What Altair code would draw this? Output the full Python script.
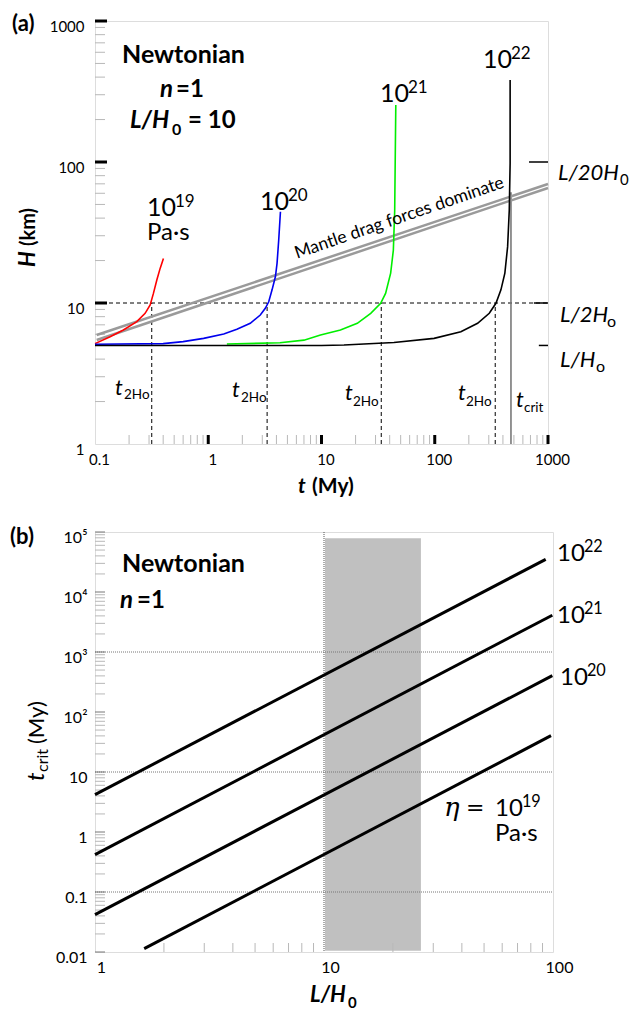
import altair as alt
import pandas as pd

FONT = "Lato"

# ---------------- Panel (a): H(t) curves ----------------
red_t = [0.100, 0.136, 0.178, 0.234, 0.277, 0.307, 0.328, 0.352, 0.376, 0.402]
red_H = [5.15, 5.77, 6.44, 7.37, 8.45, 9.68, 11.7, 14.6, 17.6, 20.7]
blue_t = [0.100, 0.40, 0.60, 0.91, 1.37, 1.79, 2.35, 2.88, 3.19, 3.42, 3.66, 3.92, 4.05, 4.19, 4.34]
blue_H = [5.10, 5.15, 5.32, 5.61, 6.03, 6.51, 7.18, 8.22, 9.17, 10.2, 12.4, 15.4, 19.1, 28.0, 44.4]
green_t = [1.46, 4.3, 7.0, 9.8, 14.7, 20.7, 27.2, 33.3, 36.8, 40.8, 43.1, 44.3, 45.3]
green_H = [5.12, 5.22, 5.45, 5.93, 6.44, 7.18, 8.45, 9.95, 11.7, 16.3, 23.7, 45.5, 254]
black_t = [0.100, 10.0, 15.8, 43.6, 98.6, 170, 239, 303, 347, 384, 416, 440, 455, 463, 463]
black_H = [5.00, 5.00, 5.04, 5.24, 5.61, 6.26, 7.18, 8.45, 9.95, 12.4, 16.3, 25.1, 45.5, 98, 382]

band_t = [0.1035, 1000]
band_upper_H = [5.93, 69.8]
band_lower_H = [5.47, 65.4]

t2Ho = [0.317, 3.31, 33.7, 342]
H_2H0 = 10
t_crit_a = 471
t_crit_top = 61

right_tick_H = [100, 10, 5]
right_tick_from_t = [680, 750, 830]

a_x_ticks = [0.1, 1, 10, 100, 1000]
a_x_labels = ["0.1", "1", "10", "100", "1000"]
a_y_ticks = [1, 10, 100, 1000]
a_y_labels = ["1", "10", "100", "1000"]

# ---------------- Panel (b): t_crit vs L/H0 ----------------
LH_19 = [1.64, 98.0]
tc_19 = [0.0114, 40.3]
LH_20 = [1.0, 99.3]
tc_20 = [0.042, 403]
LH_21 = [1.0, 99.3]
tc_21 = [0.42, 4100]
LH_22 = [1.0, 92.9]
tc_22 = [4.2, 35000]
shade_LH = [10.1, 26.5]
shade_tc = [0.0105, 79000]
grid_tc = [0.1, 10, 1000]
vline_LH = [10]

b_x_ticks = [1, 10, 100]
b_x_labels = ["1", "10", "100"]
b_y_ticks = [0.01, 0.1, 1, 10, 100, 1000, 1e4, 1e5]
b_y_labels = ["0.01", "0.1", "1", "10", "10²", "10³", "10⁴", "10⁵"]

a_x_minor = [m * 10 ** k for k in range(-1, 3) for m in range(2, 10)]
a_y_minor = [m * 10 ** k for k in range(0, 3) for m in range(2, 10)]
b_x_minor = [m * 10 ** k for k in range(0, 2) for m in range(2, 10)]
b_y_minor = [m * 10 ** k for k in range(-2, 5) for m in range(2, 10)]

WA, HA = 453, 423
WB, HB = 458, 420


def js_list(lst):
    return "[" + ",".join("'" + s + "'" for s in lst) + "]"


def T(x, y, s, size, weight="normal", style="normal", align="left",
      baseline="alphabetic", angle=0, font=FONT, color="black"):
    return alt.Chart(pd.DataFrame({"s": [s]})).mark_text(
        text=s, fontSize=size, fontWeight=weight, fontStyle=style, align=align,
        baseline=baseline, angle=angle, font=font, color=color
    ).encode(x=alt.value(x), y=alt.value(y))


def power(x, y, base, exp, size):
    w = len(base) * 0.56 * size
    return [T(x, y, base, size), T(x + w, y - 0.36 * size, exp, round(size * 0.68, 1))]


# ---------- panel (a) scales / axes ----------
xsa = alt.Scale(type="log", domain=[0.1, 1000])
ysa = alt.Scale(type="log", domain=[1, 1000])
axa_x = alt.Axis(values=a_x_ticks, labelExpr=js_list(a_x_labels) + "[round(log(datum.value)/LN10)+1]",
                 title=None, ticks=False, domain=False, grid=False, labelFontSize=15,
                 labelFont=FONT, labelColor="black", labelPadding=8, labelOffset=4, labelFlush=False)
axa_y = alt.Axis(values=a_y_ticks, labelExpr=js_list(a_y_labels) + "[round(log(datum.value)/LN10)]",
                 title=None, ticks=False, domain=False, grid=False, labelFontSize=15,
                 labelFont=FONT, labelColor="black", labelPadding=11, labelOffset=5, labelFlush=False)


def XA(f):
    return alt.X(f, type="quantitative", scale=xsa, axis=axa_x)


def YA(f):
    return alt.Y(f, type="quantitative", scale=ysa, axis=axa_y)


rows = []
for name, ts, hs in [("1e19", red_t, red_H), ("1e20", blue_t, blue_H),
                     ("1e21", green_t, green_H), ("1e22", black_t, black_H)]:
    for i, (t, h) in enumerate(zip(ts, hs)):
        rows.append({"series": name, "t": t, "H": h, "i": i})
curves_df = pd.DataFrame(rows)

band_rows = []
for name, hs in [("upper", band_upper_H), ("lower", band_lower_H)]:
    for t, h in zip(band_t, hs):
        band_rows.append({"b": name, "t": t, "H": h})
band_df = pd.DataFrame(band_rows)

a_layers = []
# minor / major inward ticks
a_layers.append(alt.Chart(pd.DataFrame({"v": a_y_minor})).mark_rule(color="#b8b8b8", strokeWidth=1)
                .encode(y=YA("v"), x=alt.value(0), x2=alt.value(10)))
a_layers.append(alt.Chart(pd.DataFrame({"v": a_y_ticks[1:]})).mark_rule(color="black", strokeWidth=3)
                .encode(y=YA("v"), x=alt.value(0), x2=alt.value(12)))
a_layers.append(alt.Chart(pd.DataFrame({"v": a_x_minor})).mark_rule(color="#b8b8b8", strokeWidth=1)
                .encode(x=XA("v"), y=alt.value(HA), y2=alt.value(HA - 9)))
a_layers.append(alt.Chart(pd.DataFrame({"v": a_x_ticks[1:]})).mark_rule(color="black", strokeWidth=3)
                .encode(x=XA("v"), y=alt.value(HA), y2=alt.value(HA - 9)))
a_layers.append(alt.Chart(pd.DataFrame({"H": right_tick_H, "t0": right_tick_from_t, "t1": [1000] * 3}))
                .mark_rule(color="black", strokeWidth=1.5)
                .encode(y=YA("H"), x=XA("t0"), x2="t1:Q"))
# dashed guides
a_layers.append(alt.Chart(pd.DataFrame({"H": [H_2H0], "t0": [0.1], "t1": [1000]}))
                .mark_rule(color="black", strokeWidth=1, strokeDash=[4, 3])
                .encode(y=YA("H"), x=XA("t0"), x2="t1:Q"))
a_layers.append(alt.Chart(pd.DataFrame({"t": t2Ho, "y0": [1] * 4, "y1": [H_2H0] * 4}))
                .mark_rule(color="black", strokeWidth=1, strokeDash=[4, 3])
                .encode(x=XA("t"), y=YA("y0"), y2="y1:Q"))
a_layers.append(alt.Chart(pd.DataFrame({"t": [t_crit_a], "y0": [1], "y1": [t_crit_top]}))
                .mark_rule(color="#707070", strokeWidth=1.5)
                .encode(x=XA("t"), y=YA("y0"), y2="y1:Q"))
# mantle drag band
a_layers.append(alt.Chart(band_df).mark_line(color="#9a9a9a", strokeWidth=2.5)
                .encode(x=XA("t"), y=YA("H"), detail="b:N"))
# curves
a_layers.append(alt.Chart(curves_df).mark_line(strokeWidth=1.6, interpolate="linear")
                .encode(x=XA("t"), y=YA("H"),
                        color=alt.Color("series:N", legend=None,
                                        scale=alt.Scale(domain=["1e19", "1e20", "1e21", "1e22"],
                                                        range=["#ff0000", "#0000ee", "#00ee00", "#000000"])),
                        order="i:Q"))

# texts
a_texts = [
    T(-83, 10, "(a)", 22, weight="bold"),
    T(27, 42, "Newtonian", 25, weight="bold"),
    T(65, 76, "n", 24, weight="bold", style="italic"),
    T(81, 76, "=1", 24, weight="bold"),
    T(35, 107, "L/H", 24, weight="bold", style="italic"),
    T(77, 114, "0", 16, weight="bold"),
    T(93, 107, "= 10", 24, weight="bold"),
    T(52, 219, "Pa·s", 24),
    T(306, 202, "Mantle drag forces dominate", 17.5, align="center", angle=341),
    T(203, 472, "t", 21, weight="bold", style="italic"),
    T(217, 472, "(My)", 21, weight="bold"),
    T(-60, 246, "H", 22, weight="bold", style="italic", angle=270),
    T(-60, 225, "(km)", 20, weight="bold", angle=270),
    T(463, 159, "L/20H", 22, style="italic"),
    T(525, 164, "0", 15),
    T(465, 301, "L/2H", 22, style="italic"),
    T(512, 306, "o", 16),
    T(465, 346, "L/H", 22, style="italic"),
    T(501, 351, "o", 16),
]
a_texts += power(52, 195, "10", "19", 25)
a_texts += power(165, 189, "10", "20", 25)
a_texts += power(285, 81, "10", "21", 25)
a_texts += power(388, 47, "10", "22", 25)
for (tx, ty, sx, sy) in [(20, 374, 29, 378), (137, 376, 146, 381), (250, 379, 258, 385), (363, 379, 371, 385)]:
    a_texts.append(T(tx, ty, "t", 22, style="italic"))
    a_texts.append(T(sx, sy, "2Ho", 13.5))
a_texts.append(T(421, 386, "t", 22, style="italic"))
a_texts.append(T(429, 391, "crit", 13.5))

panel_a = alt.layer(*a_layers, *a_texts).properties(width=WA, height=HA)

# ---------- panel (b) ----------
xsb = alt.Scale(type="log", domain=[1, 100])
ysb = alt.Scale(type="log", domain=[0.01, 1e5])
axb_x = alt.Axis(values=b_x_ticks, labelExpr=js_list(b_x_labels) + "[round(log(datum.value)/LN10)]",
                 title=None, ticks=False, domain=False, grid=False, labelFontSize=16,
                 labelFont=FONT, labelColor="black", labelPadding=7, labelOffset=6, labelFlush=False)
axb_y = alt.Axis(values=b_y_ticks, labelExpr=js_list(b_y_labels) + "[round(log(datum.value)/LN10)+2]",
                 title=None, ticks=False, domain=False, grid=False, labelFontSize=16,
                 labelFont=FONT, labelColor="black", labelPadding=8, labelOffset=5, labelFlush=False)


def XB(f):
    return alt.X(f, type="quantitative", scale=xsb, axis=axb_x)


def YB(f):
    return alt.Y(f, type="quantitative", scale=ysb, axis=axb_y)


lrows = []
for name, xs, ys in [("19", LH_19, tc_19), ("20", LH_20, tc_20), ("21", LH_21, tc_21), ("22", LH_22, tc_22)]:
    for x, y in zip(xs, ys):
        lrows.append({"eta": name, "LH": x, "tc": y})
lines_df = pd.DataFrame(lrows)

b_layers = [
    alt.Chart(pd.DataFrame({"x0": [shade_LH[0]], "x1": [shade_LH[1]], "y0": [shade_tc[0]], "y1": [shade_tc[1]]}))
    .mark_rect(color="#c0c0c0").encode(x=XB("x0"), x2="x1:Q", y=YB("y0"), y2="y1:Q"),
    alt.Chart(pd.DataFrame({"v": grid_tc})).mark_rule(color="#777777", strokeWidth=1, strokeDash=[1, 1])
    .encode(y=YB("v"), x=alt.value(0), x2=alt.value(WB)),
    alt.Chart(pd.DataFrame({"v": vline_LH})).mark_rule(color="#555555", strokeWidth=1, strokeDash=[1, 1])
    .encode(x=XB("v"), y=alt.value(0), y2=alt.value(HB)),
    alt.Chart(pd.DataFrame({"v": b_y_minor})).mark_rule(color="#b8b8b8", strokeWidth=1)
    .encode(y=YB("v"), x=alt.value(0), x2=alt.value(10)),
    alt.Chart(pd.DataFrame({"v": b_y_ticks})).mark_rule(color="#777777", strokeWidth=1)
    .encode(y=YB("v"), x=alt.value(0), x2=alt.value(10)),
    alt.Chart(pd.DataFrame({"v": b_x_minor})).mark_rule(color="#b8b8b8", strokeWidth=1)
    .encode(x=XB("v"), y=alt.value(HB), y2=alt.value(HB - 9)),
    alt.Chart(lines_df).mark_line(color="black", strokeWidth=3)
    .encode(x=XB("LH"), y=YB("tc"), detail="eta:N"),
]

b_texts = [
    T(-85, 12, "(b)", 22, weight="bold"),
    T(27, 40, "Newtonian", 25, weight="bold"),
    T(25, 76, "n", 24, weight="bold", style="italic"),
    T(42, 76, "=1", 24, weight="bold"),
    T(349, 284, "η", 26, style="italic", font="DejaVu Serif"),
    T(371, 283, "=", 22, font="DejaVu Serif"),
    T(400, 309, "Pa·s", 24),
    T(-51, 249, "t", 24, style="italic", angle=270),
    T(-47, 240, "crit", 16, angle=270),
    T(-51, 212, "(My)", 22, angle=270),
    T(215, 470, "L/H", 22, weight="bold", style="italic"),
    T(253, 476, "0", 15, weight="bold"),
]
b_texts += power(462, 29, "10", "22", 24)
b_texts += power(462, 91, "10", "21", 24)
b_texts += power(465, 153, "10", "20", 24)
b_texts += power(400, 284, "10", "19", 24)

panel_b = alt.layer(*b_layers, *b_texts).properties(width=WB, height=HB)

chart = alt.vconcat(panel_a, panel_b, spacing=27).properties(
    padding={"left": 9, "top": 12, "right": 0, "bottom": 0}
).configure_view(stroke="black", strokeWidth=1.5).configure(background="white")

chart.save("out.html", embed_options={"renderer": "svg", "actions": False})
